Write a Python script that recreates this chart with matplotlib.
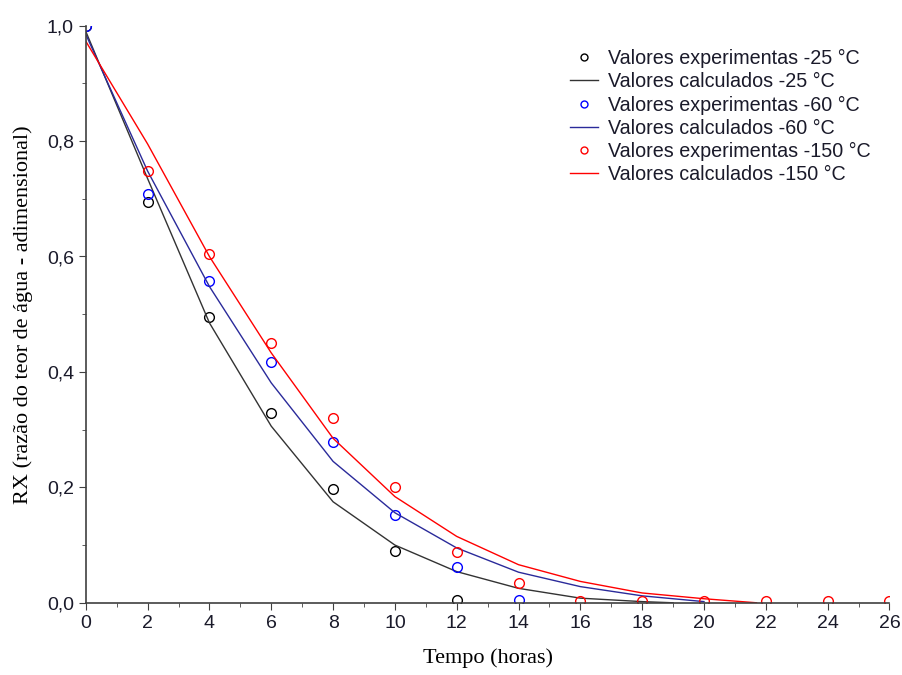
import numpy as np
import matplotlib.pyplot as plt
from matplotlib.ticker import MultipleLocator, FuncFormatter

# experimental points (hours, RX)
t_exp_25 = [0, 2, 4, 6, 8, 10, 12]
rx_exp_25 = [1.0, 0.694, 0.495, 0.328, 0.198, 0.090, 0.004]
t_exp_60 = [0, 2, 4, 6, 8, 10, 12, 14]
rx_exp_60 = [1.0, 0.709, 0.558, 0.418, 0.278, 0.152, 0.062, 0.004]
t_exp_150 = [2, 4, 6, 8, 10, 12, 14, 16, 18, 20, 22, 24, 26]
rx_exp_150 = [0.748, 0.605, 0.450, 0.320, 0.200, 0.088, 0.035, 0.003, 0.003, 0.003, 0.003, 0.003, 0.003]

# calculated (model) curves
t_calc_25 = [0, 2, 4, 6, 8, 10, 12, 14, 16, 18, 19]
rx_calc_25 = [0.99, 0.735, 0.485, 0.306, 0.175, 0.100, 0.054, 0.025, 0.008, 0.002, 0.0]
t_calc_60 = [0, 2, 4, 6, 8, 10, 12, 14, 16, 18, 20]
rx_calc_60 = [0.985, 0.748, 0.548, 0.381, 0.245, 0.156, 0.095, 0.053, 0.028, 0.012, 0.002]
t_calc_150 = [0, 2, 4, 6, 8, 10, 12, 14, 16, 18, 20, 21.7]
rx_calc_150 = [0.973, 0.795, 0.600, 0.433, 0.285, 0.184, 0.115, 0.066, 0.037, 0.017, 0.007, 0.0]

fig = plt.figure(figsize=(9.03, 6.75), dpi=100)
ax = fig.add_axes([0.095, 0.107, 0.89, 0.855])

mk = dict(ls='none', marker='o', mfc='none', ms=7, mew=1)
ax.plot(t_exp_25, rx_exp_25, mec='black', label='Valores experimentas -25 °C', **mk)
ax.plot(t_calc_25, rx_calc_25, color='#333333', lw=1, label='Valores calculados -25 °C')
ax.plot(t_exp_60, rx_exp_60, mec='blue', label='Valores experimentas -60 °C', **mk)
ax.plot(t_calc_60, rx_calc_60, color='#2a2a9a', lw=1, label='Valores calculados -60 °C')
ax.plot(t_exp_150, rx_exp_150, mec='red', label='Valores experimentas -150 °C', **mk)
ax.plot(t_calc_150, rx_calc_150, color='red', lw=1, label='Valores calculados -150 °C')

ax.set_xlim(0, 26)
ax.set_ylim(0, 1.0)
ax.xaxis.set_major_locator(MultipleLocator(2))
ax.xaxis.set_minor_locator(MultipleLocator(1))
ax.yaxis.set_major_locator(MultipleLocator(0.2))
ax.yaxis.set_minor_locator(MultipleLocator(0.1))
ax.yaxis.set_major_formatter(FuncFormatter(lambda v, p: f'{v:.1f}'.replace('.', ',')))

for s in ['top', 'right']:
    ax.spines[s].set_visible(False)
for s in ['left', 'bottom']:
    ax.spines[s].set_color('#404040')
    ax.spines[s].set_linewidth(1.2)
ax.tick_params(which='major', direction='out', length=5, color='#404040',
               labelsize=14, labelcolor='#1a1a2a')
ax.tick_params(which='minor', direction='out', length=3, color='#404040')
for lab in ax.get_xticklabels() + ax.get_yticklabels():
    lab.set_family('Liberation Sans')

ax.set_xlabel('Tempo (horas)', family='Liberation Serif', fontsize=16, labelpad=12)
ax.set_ylabel('RX (razão do teor de água - adimensional)', family='Liberation Serif',
              fontsize=16, labelpad=10)

leg = ax.legend(loc='upper left', bbox_to_anchor=(0.58, 0.99), frameon=False,
                prop={'family': 'Liberation Sans', 'size': 14.2},
                handlelength=1.45, handletextpad=0.5, labelspacing=0.21)
for h in leg.legend_handles:
    h.set_markersize(5)
for t in leg.get_texts():
    t.set_color('#1a1a2a')

plt.savefig('out.png', dpi=100)
